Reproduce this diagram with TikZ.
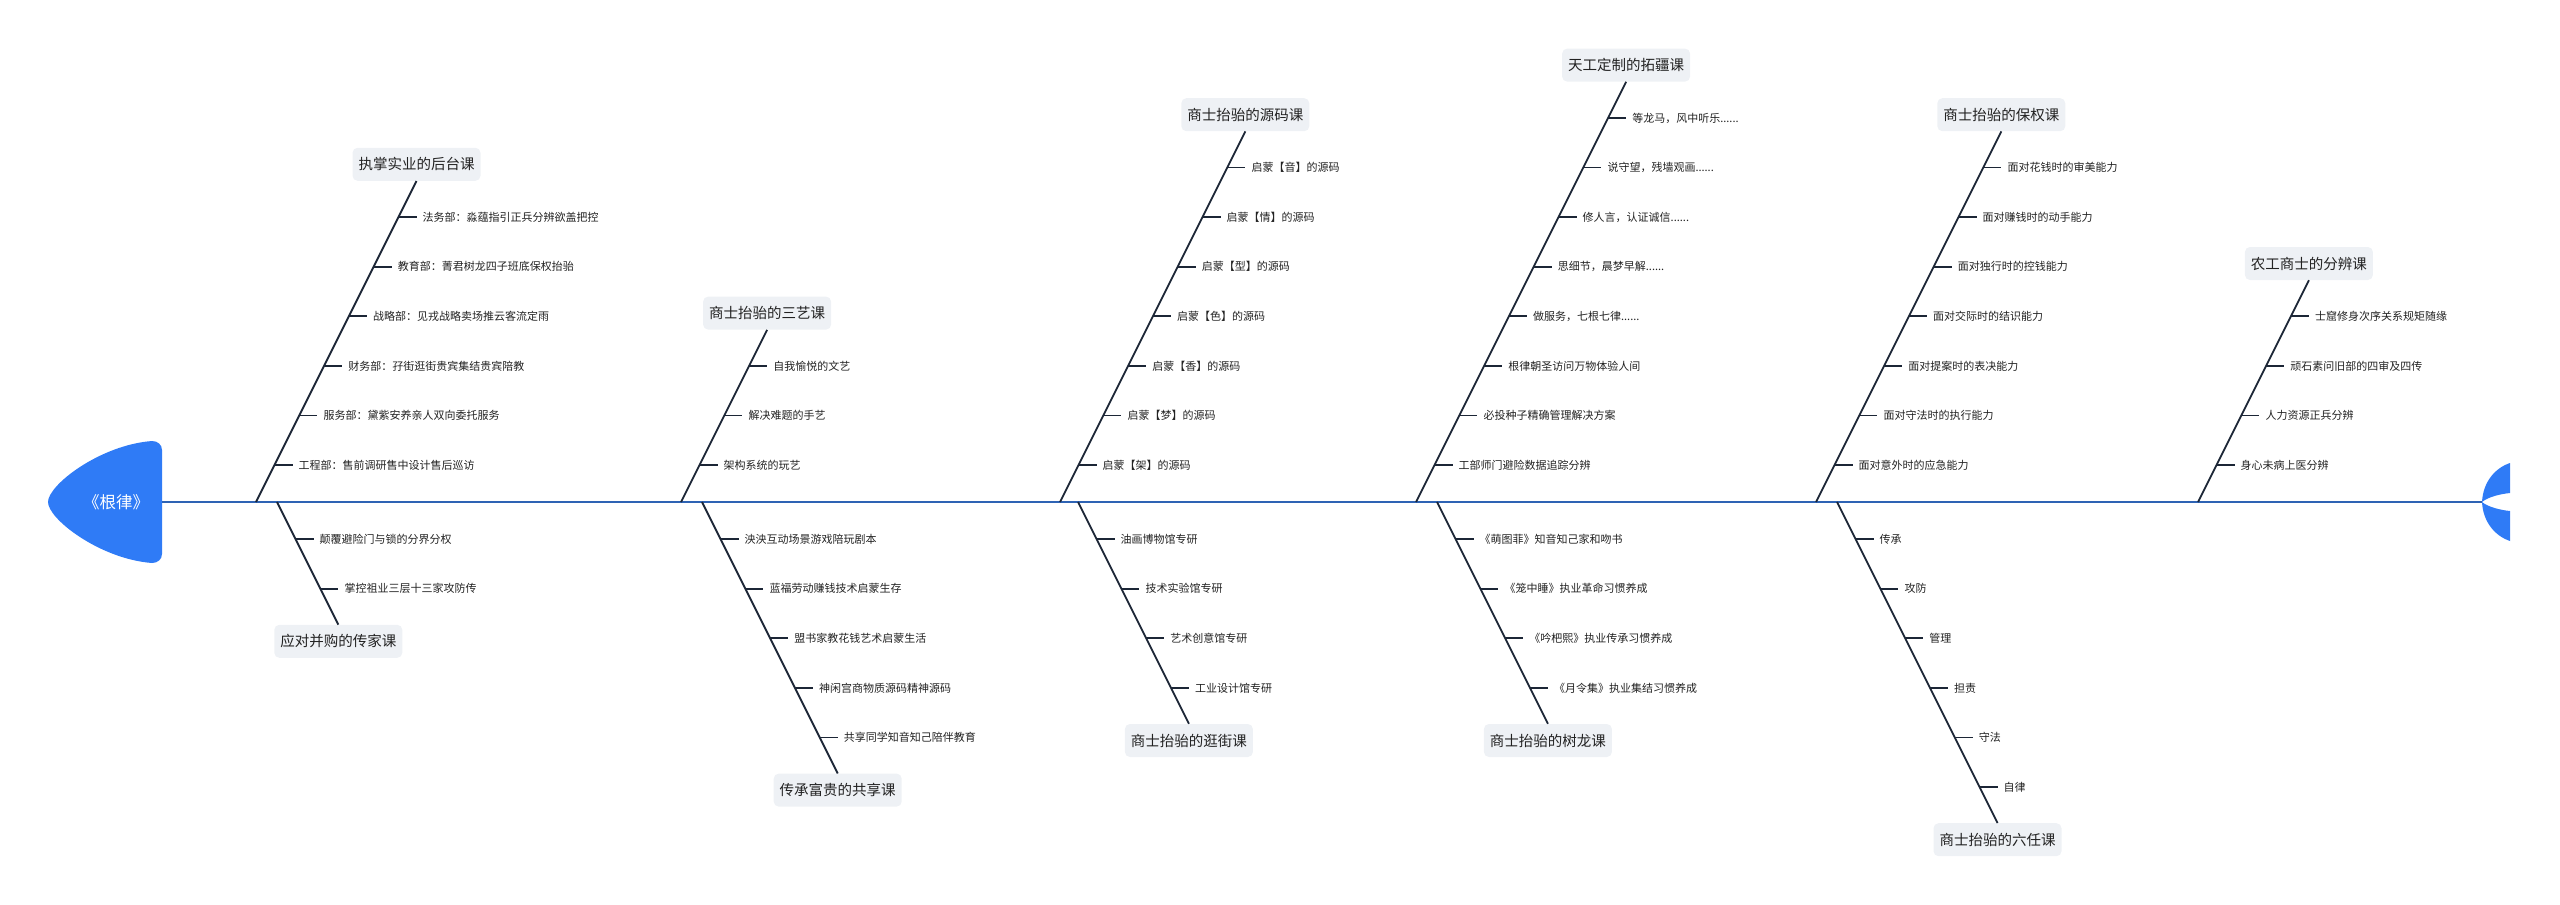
\documentclass[tikz,border=0pt]{standalone}
\usepackage{fontspec}
\setmainfont{Noto Sans CJK SC}
\definecolor{headblue}{HTML}{2F7BF6}
\definecolor{spineblue}{HTML}{2E63B4}
\definecolor{bonecol}{HTML}{1C2636}
\definecolor{labelbg}{HTML}{EEF1F5}
\definecolor{txtcol}{HTML}{222222}
\newcommand\sixdots{......}
\newcommand\TopBone[5]{%
  \pgfmathsetmacro\ytop{465-(#3-1)*49.6-36}%
  \pgfmathsetmacro\xtop{#2+0.5*(502-\ytop)}%
  \coordinate (#1s) at (#2,502);
  \node[lab, anchor=south] (#1) at (\xtop,\ytop) {#4};
  \draw[boneline] (#1s) -- (#1.south);
  \foreach \t [count=\i] in {#5}{
    \pgfmathsetmacro\yy{465-(#3-\i)*49.6}
    \pgfmathsetmacro\xx{#2+0.5*(502-\yy)}
    \coordinate (#1t\i) at (\xx,\yy);
    \node[itm] (#1i\i) at (\xx+24,\yy) {\t};
    \draw[ticklin, shorten >=6pt] (#1t\i) -- (#1i\i.west);
  }
}
\newcommand\BotBone[5]{%
  \pgfmathsetmacro\ybot{539+(#3-1)*49.6+36}%
  \pgfmathsetmacro\xbot{#2+0.5*(\ybot-502)}%
  \coordinate (#1s) at (#2,502);
  \node[lab, anchor=north] (#1) at (\xbot,\ybot) {#4};
  \draw[boneline] (#1s) -- (#1.north);
  \foreach \t [count=\i] in {#5}{
    \pgfmathsetmacro\yy{539+(\i-1)*49.6}
    \pgfmathsetmacro\xx{#2+0.5*(\yy-502)}
    \coordinate (#1t\i) at (\xx,\yy);
    \node[itm] (#1i\i) at (\xx+24,\yy) {\t};
    \draw[ticklin, shorten >=6pt] (#1t\i) -- (#1i\i.west);
  }
}
\begin{document}
\begin{tikzpicture}[x=1pt,y=-1pt,
  lab/.style={fill=labelbg, rounded corners=5pt, inner xsep=6pt, inner ysep=0pt,
    minimum height=33pt, text=txtcol, font=\fontsize{14.5}{16}\selectfont},
  itm/.style={anchor=west, inner sep=0pt, text=txtcol, text height=9.2pt, text depth=0.8pt,
    font=\fontsize{11}{13}\selectfont},
  boneline/.style={draw=bonecol, line width=1.8pt},
  ticklin/.style={draw=bonecol, line width=1.8pt},
  spine/.style={draw=spineblue, line width=2pt}]
\useasboundingbox (0,0) rectangle (2560,905);
% head
\fill[headblue] (48,502) .. controls (48,485) and (100,445) .. (152,441)
  .. controls (157.5,441) and (162,444.5) .. (162,450) -- (162,554)
  .. controls (162,559.5) and (157.5,563) .. (152,563)
  .. controls (100,559) and (48,519) .. (48,502) -- cycle;
\node[text=white, inner sep=0pt, font=\fontsize{16.5}{18}\selectfont] (head) at (116,502) {《根律》};
% tail
\fill[headblue] (2482,502) .. controls (2483,482) and (2495,468) .. (2510,463)
  -- (2510,493) .. controls (2500,494) and (2488,497) .. (2482,502) -- cycle;
\fill[headblue] (2482,502) .. controls (2483,522) and (2495,536) .. (2510,541)
  -- (2510,511) .. controls (2500,510) and (2488,507) .. (2482,502) -- cycle;
\coordinate (headR) at (162,502);
\coordinate (tail) at (2482,502);
\draw[spine] (headR) -- (tail);
% top bones
\TopBone{T1}{256}{6}{执掌实业的后台课}{法务部：淼蕴指引正兵分辨欲盖把控,教育部：菁君树龙四子班底保权抬骀,战略部：见戎战略卖场推云客流定雨,财务部：孖街逛街贵宾集结贵宾陪教,服务部：黛紫安养亲人双向委托服务,工程部：售前调研售中设计售后巡访}
\TopBone{T2}{681}{3}{商士抬骀的三艺课}{自我愉悦的文艺,解决难题的手艺,架构系统的玩艺}
\TopBone{T3}{1060}{7}{商士抬骀的源码课}{启蒙【音】的源码,启蒙【情】的源码,启蒙【型】的源码,启蒙【色】的源码,启蒙【香】的源码,启蒙【梦】的源码,启蒙【架】的源码}
\TopBone{T4}{1416}{8}{天工定制的拓疆课}{等龙马，风中听乐\sixdots,说守望，残墙观画\sixdots,修人言，认证诚信\sixdots,思细节，晨梦早解\sixdots,做服务，七根七律\sixdots,根律朝圣访问万物体验人间,必投种子精确管理解决方案,工部师门避险数据追踪分辨}
\TopBone{T5}{1816}{7}{商士抬骀的保权课}{面对花钱时的审美能力,面对赚钱时的动手能力,面对独行时的控钱能力,面对交际时的结识能力,面对提案时的表决能力,面对守法时的执行能力,面对意外时的应急能力}
\TopBone{T6}{2198}{4}{农工商士的分辨课}{士窟修身次序关系规矩随缘,顽石素问旧部的四审及四传,人力资源正兵分辨,身心未病上医分辨}
% bottom bones
\BotBone{B1}{277}{2}{应对并购的传家课}{颠覆避险门与锁的分界分权,掌控祖业三层十三家攻防传}
\BotBone{B2}{702}{5}{传承富贵的共享课}{泱泱互动场景游戏陪玩剧本,蓝福劳动赚钱技术启蒙生存,盟书家教花钱艺术启蒙生活,神闲宫商物质源码精神源码,共享同学知音知己陪伴教育}
\BotBone{B3}{1078}{4}{商士抬骀的逛街课}{油画博物馆专研,技术实验馆专研,艺术创意馆专研,工业设计馆专研}
\BotBone{B4}{1437}{4}{商士抬骀的树龙课}{《萌图菲》知音知己家和吻书,《笼中睡》执业革命习惯养成,《吟杷熙》执业传承习惯养成,《月令集》执业集结习惯养成}
\BotBone{B5}{1837}{6}{商士抬骀的六任课}{传承,攻防,管理,担责,守法,自律}
\end{tikzpicture}
\end{document}
